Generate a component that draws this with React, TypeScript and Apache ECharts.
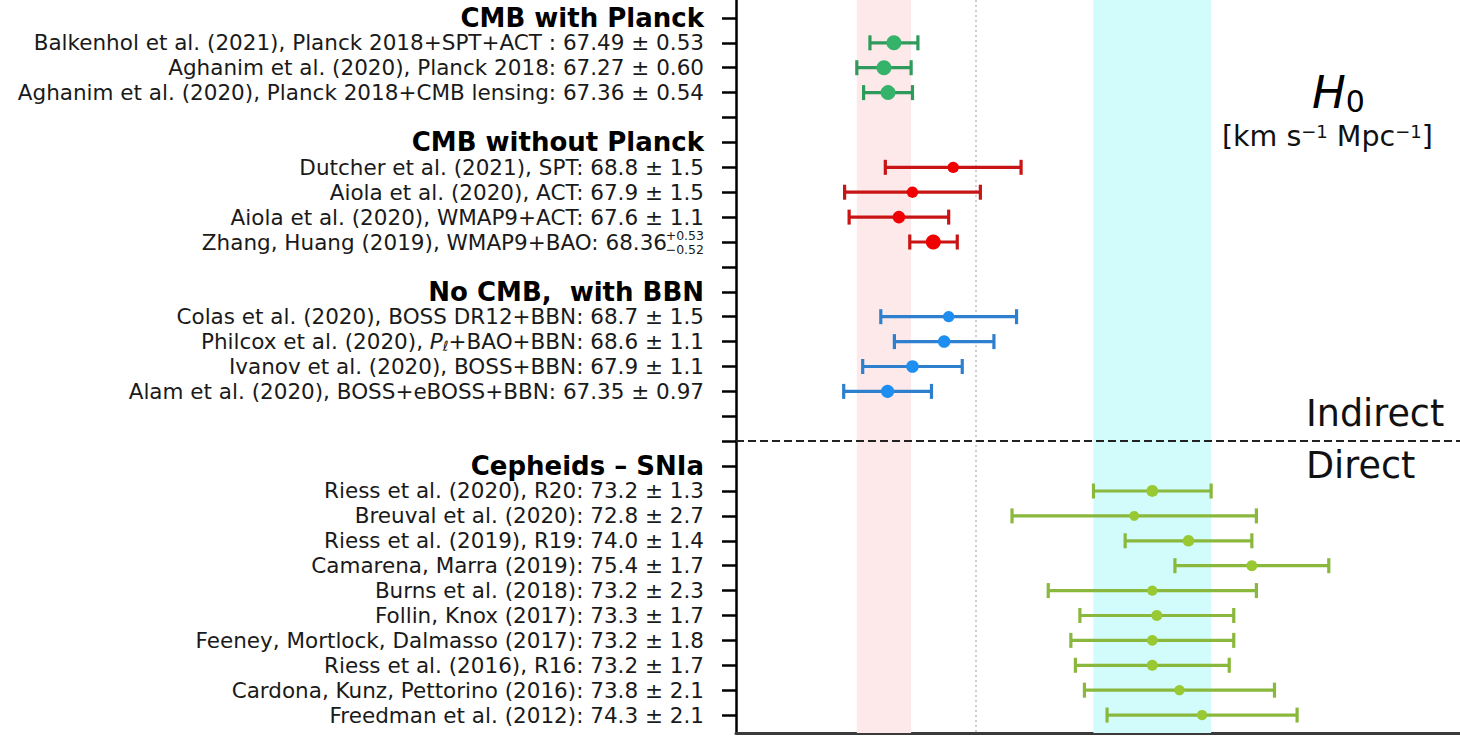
import React, { useEffect, useRef } from "react";
import * as echarts from "echarts";

// ---------- data ----------
const cmbPlanckTitle = "CMB with Planck";
const cmbPlanckLabels = [
  "Balkenhol et al. (2021), Planck 2018+SPT+ACT : 67.49 ± 0.53",
  "Aghanim et al. (2020), Planck 2018: 67.27 ± 0.60",
  "Aghanim et al. (2020), Planck 2018+CMB lensing: 67.36 ± 0.54",
];
const cmbPlanckH0 = [67.49, 67.27, 67.36];
const cmbPlanckErrUp = [0.53, 0.6, 0.54];
const cmbPlanckErrDown = [0.53, 0.6, 0.54];

const cmbNoPlanckTitle = "CMB without Planck";
const cmbNoPlanckLabels = [
  "Dutcher et al. (2021), SPT: 68.8 ± 1.5",
  "Aiola et al. (2020), ACT: 67.9 ± 1.5",
  "Aiola et al. (2020), WMAP9+ACT: 67.6 ± 1.1",
  "{sup|+0.53}\n{m|Zhang, Huang (2019), WMAP9+BAO: 68.36}{gap| }\n{sub|−0.52}",
];
const cmbNoPlanckH0 = [68.8, 67.9, 67.6, 68.36];
const cmbNoPlanckErrUp = [1.5, 1.5, 1.1, 0.53];
const cmbNoPlanckErrDown = [1.5, 1.5, 1.1, 0.52];

const bbnTitle = "No CMB,  with BBN";
const bbnLabels = [
  "Colas et al. (2020), BOSS DR12+BBN: 68.7 ± 1.5",
  "Philcox et al. (2020), {it|P}{ell|ℓ}+BAO+BBN: 68.6 ± 1.1",
  "Ivanov et al. (2020), BOSS+BBN: 67.9 ± 1.1",
  "Alam et al. (2020), BOSS+eBOSS+BBN: 67.35 ± 0.97",
];
const bbnH0 = [68.7, 68.6, 67.9, 67.35];
const bbnErrUp = [1.5, 1.1, 1.1, 0.97];
const bbnErrDown = [1.5, 1.1, 1.1, 0.97];

const cepheidTitle = "Cepheids – SNIa";
const cepheidLabels = [
  "Riess et al. (2020), R20: 73.2 ± 1.3",
  "Breuval et al. (2020): 72.8 ± 2.7",
  "Riess et al. (2019), R19: 74.0 ± 1.4",
  "Camarena, Marra (2019): 75.4 ± 1.7",
  "Burns et al. (2018): 73.2 ± 2.3",
  "Follin, Knox (2017): 73.3 ± 1.7",
  "Feeney, Mortlock, Dalmasso (2017): 73.2 ± 1.8",
  "Riess et al. (2016), R16: 73.2 ± 1.7",
  "Cardona, Kunz, Pettorino (2016): 73.8 ± 2.1",
  "Freedman et al. (2012): 74.3 ± 2.1",
];
const cepheidH0 = [73.2, 72.8, 74.0, 75.4, 73.2, 73.3, 73.2, 73.2, 73.8, 74.3];
const cepheidErrUp = [1.3, 2.7, 1.4, 1.7, 2.3, 1.7, 1.8, 1.7, 2.1, 2.1];
const cepheidErrDown = [1.3, 2.7, 1.4, 1.7, 2.3, 1.7, 1.8, 1.7, 2.1, 2.1];

const referenceH0 = 69.3; // dotted vertical line
const xMin = 64;
const xMax = 80;

// ---------- build rows ----------
type Row = { label: string; heading: boolean };
const rows: Row[] = [];
const groups: { key: string; data: number[][] }[] = [];

function addGroup(key: string, title: string, labels: string[], h0: number[], up: number[], down: number[]) {
  rows.push({ label: title, heading: true });
  const data: number[][] = [];
  labels.forEach((lab, i) => {
    data.push([h0[i], rows.length, up[i], down[i]]);
    rows.push({ label: lab, heading: false });
  });
  groups.push({ key, data });
}

addGroup("planck", cmbPlanckTitle, cmbPlanckLabels, cmbPlanckH0, cmbPlanckErrUp, cmbPlanckErrDown);
rows.push({ label: "", heading: false });
addGroup("noplanck", cmbNoPlanckTitle, cmbNoPlanckLabels, cmbNoPlanckH0, cmbNoPlanckErrUp, cmbNoPlanckErrDown);
rows.push({ label: "", heading: false });
addGroup("bbn", bbnTitle, bbnLabels, bbnH0, bbnErrUp, bbnErrDown);
rows.push({ label: "", heading: false });
const dividerRow = rows.length;
rows.push({ label: "", heading: false });
addGroup("cepheid", cepheidTitle, cepheidLabels, cepheidH0, cepheidErrUp, cepheidErrDown);

const rowIndices = rows.map((_, i) => i);
const headingRows = rowIndices.filter((i) => rows[i].heading);
const itemRows = rowIndices.filter((i) => !rows[i].heading && rows[i].label !== "");

const colors: Record<string, { dot: string; bar: string }> = {
  planck: { dot: "#35b36a", bar: "#2e9a5c" },
  noplanck: { dot: "#f00000", bar: "#c81414" },
  bbn: { dot: "#1e8ef0", bar: "#2f7fcf" },
  cepheid: { dot: "#98c932", bar: "#8ab83c" },
};

const FONT = "DejaVu Sans";
const Y_MIN = -0.72;
const Y_MAX = rows.length - 1 + 0.72;

export default function App() {
  const ref = useRef<HTMLDivElement>(null);

  useEffect(() => {
    if (!ref.current) return;
    const chart = echarts.init(ref.current, undefined, { renderer: "svg" });

    const planckLo = cmbPlanckH0[1] - cmbPlanckErrDown[1];
    const planckHi = cmbPlanckH0[1] + cmbPlanckErrUp[1];
    const r20Lo = cepheidH0[0] - cepheidErrDown[0];
    const r20Hi = cepheidH0[0] + cepheidErrUp[0];

    const errorSeries = groups.map((g) => ({
      type: "custom",
      name: g.key,
      z: 5,
      data: g.data,
      encode: { x: 0, y: 1 },
      renderItem: (_p: any, api: any) => {
        const v = api.value(0);
        const row = api.value(1);
        const up = api.value(2);
        const down = api.value(3);
        const l = api.coord([v - down, row]);
        const r = api.coord([v + up, row]);
        const c = api.coord([v, row]);
        const cap = 7.5;
        const err = (up + down) / 2;
        const size = Math.min(15, 8 + 5 / err);
        const col = colors[g.key];
        const ls = { stroke: col.bar, lineWidth: 3.2 };
        return {
          type: "group",
          children: [
            { type: "line", shape: { x1: l[0], y1: l[1], x2: r[0], y2: r[1] }, style: ls },
            { type: "line", shape: { x1: l[0], y1: l[1] - cap, x2: l[0], y2: l[1] + cap }, style: ls },
            { type: "line", shape: { x1: r[0], y1: r[1] - cap, x2: r[0], y2: r[1] + cap }, style: ls },
            { type: "circle", shape: { cx: c[0], cy: c[1], r: size / 2 }, style: { fill: col.dot } },
          ],
        };
      },
    }));

    const labelFormatter = (v: number) => {
      const i = Math.round(v);
      return rows[i] ? rows[i].label : "";
    };

    const option: any = {
      animation: false,
      backgroundColor: "#ffffff",
      grid: { left: 736, right: 0, top: 0, bottom: 3, containLabel: false },
      xAxis: {
        type: "value",
        position: "bottom",
        min: xMin,
        max: xMax,
        axisLine: { show: true, onZero: false, lineStyle: { color: "#3a3a3a", width: 3 } },
        axisTick: { show: false },
        axisLabel: { show: false },
        splitLine: { show: false },
      },
      yAxis: [
        {
          type: "value",
          inverse: true,
          position: "left",
          min: Y_MIN,
          max: Y_MAX,
          axisLine: { show: true, onZero: false, lineStyle: { color: "#000", width: 2.5 } },
          axisTick: {
            show: true,
            customValues: rowIndices,
            length: 14,
            lineStyle: { color: "#000", width: 2.5 },
          },
          splitLine: { show: false },
          axisLabel: {
            show: true,
            showMinLabel: true,
            showMaxLabel: true,
            hideOverlap: false,
            customValues: itemRows,
            margin: 32,
            fontFamily: FONT,
            fontSize: 21.5,
            color: "#1a1a1a",
            lineHeight: 23,
            formatter: labelFormatter,
            rich: {
              m: { fontFamily: FONT, fontSize: 21.5, color: "#1a1a1a", lineHeight: 4 },
              gap: { width: 37, lineHeight: 4, fontSize: 12 },
              sup: { fontFamily: FONT, fontSize: 12.5, color: "#1a1a1a", lineHeight: 10 },
              sub: { fontFamily: FONT, fontSize: 12.5, color: "#1a1a1a", lineHeight: 10 },
              it: { fontFamily: FONT, fontSize: 21.5, fontStyle: "italic", color: "#1a1a1a" },
              ell: { fontFamily: FONT, fontSize: 14, fontStyle: "italic", color: "#1a1a1a", lineHeight: 14, verticalAlign: "bottom" },
            },
          },
        },
        {
          type: "value",
          inverse: true,
          position: "left",
          offset: 0,
          min: Y_MIN,
          max: Y_MAX,
          axisLine: { show: false },
          axisTick: { show: false },
          splitLine: { show: false },
          axisLabel: {
            show: true,
            showMinLabel: true,
            showMaxLabel: true,
            hideOverlap: false,
            customValues: headingRows,
            margin: 32,
            fontFamily: FONT,
            fontSize: 26,
            fontWeight: "bold",
            color: "#000",
            lineHeight: 26,
            padding: [0, 0, 5, 0],
            formatter: labelFormatter,
          },
        },
      ],
      series: [
        {
          type: "line",
          data: [],
          z: 1,
          silent: true,
          markArea: {
            silent: true,
            data: [
              [{ xAxis: planckLo, itemStyle: { color: "#fde9e9" } }, { xAxis: planckHi }],
              [{ xAxis: r20Lo, itemStyle: { color: "#d2fbfc" } }, { xAxis: r20Hi }],
            ],
          },
          markLine: {
            silent: true,
            symbol: ["none", "none"],
            label: { show: false },
            data: [
              { xAxis: referenceH0, lineStyle: { color: "#bdbdbd", width: 1.5, type: [2, 3] } },
              { yAxis: dividerRow, lineStyle: { color: "#222", width: 2, type: [8, 4] } },
            ],
          },
        },
        ...errorSeries,
      ],
      graphic: [
        {
          type: "text",
          left: 1312,
          top: 70,
          style: {
            text: "{hi|H}{h0|0}",
            rich: {
              hi: { fontFamily: FONT, fontSize: 45, fontStyle: "italic", fill: "#000", lineHeight: 48 },
              h0: { fontFamily: FONT, fontSize: 30, fill: "#000", lineHeight: 32, verticalAlign: "bottom" },
            },
          },
        },
        {
          type: "text",
          left: 1222,
          top: 122,
          style: {
            text: "[km s{sp|−1} Mpc{sp|−1}]",
            fontFamily: FONT,
            fontSize: 28.5,
            fill: "#111",
            rich: {
              sp: { fontFamily: FONT, fontSize: 18, fill: "#111", verticalAlign: "top", lineHeight: 29 },
            },
          },
        },
        {
          type: "text",
          left: 1306,
          top: 395,
          style: { text: "Indirect", fontFamily: FONT, fontSize: 36.5, fill: "#111" },
        },
        {
          type: "text",
          left: 1306,
          top: 447,
          style: { text: "Direct", fontFamily: FONT, fontSize: 36.5, fill: "#111" },
        },
      ],
    };

    chart.setOption(option);
    return () => chart.dispose();
  }, []);

  return (
    <div
      ref={ref}
      style={{ position: "fixed", left: 0, top: 0, width: 1460, height: 736, background: "#fff" }}
    />
  );
}
